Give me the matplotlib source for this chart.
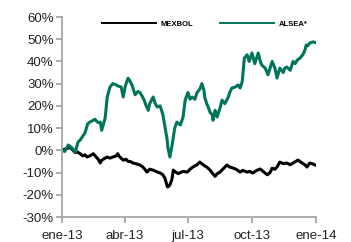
import matplotlib
matplotlib.use('Agg')
import matplotlib.pyplot as plt
import numpy as np
import pandas as pd

# days since 2013-01-01 and cumulative return (%)
alsea_days = [0, 4, 9, 13, 16, 19, 23, 26, 29, 33, 37, 40, 45, 47, 52, 55, 57, 62, 65, 69,
              73, 78, 80, 85, 88, 91, 95, 98, 101, 105, 109, 112, 115, 118, 121, 124, 126, 131,
              134, 137, 141, 145, 148, 151, 152, 155, 158, 160, 162, 165, 170, 174, 177, 181,
              184, 187, 191, 194, 198, 201, 204, 205, 208, 210, 213, 216, 217, 220, 223, 224,
              227, 230, 234, 239, 241, 244, 249, 253, 256, 259, 262, 266, 269, 273, 277, 282,
              285, 287, 292, 296, 299, 302, 306, 309, 313, 318, 320, 323, 328, 332, 335, 338,
              342, 346, 349, 351, 353, 356, 361, 364, 366]
alsea = [0, -0.5, 2.4, 1.5, 0.5, -0.8, 3.7, 4.6, 6, 7.8, 12, 12.7, 13.5, 14, 12.5, 12.7, 9, 14.5,
         24, 28.5, 30, 29.5, 29, 28.5, 24, 29, 32.5, 31, 29, 25, 26.5, 26, 24.5, 22.6, 20, 18, 21,
         24, 21, 19.5, 20, 16, 10.5, 5, 1.5, -3, 2, 6, 10, 12.7, 11.4, 15, 22.6, 26, 23, 24, 23,
         26, 27.5, 30, 27, 24, 21, 19.5, 17, 16, 13.5, 18, 15, 16, 19, 22.6, 21, 24, 26, 28, 28.5,
         29.4, 28, 31, 41.5, 43, 40, 43.8, 39, 43.8, 40, 38.4, 37, 34, 37, 40, 37, 32.5, 37, 35,
         37, 37.5, 36, 40, 39, 40.6, 41.5, 43, 45, 47.4, 47, 48.3, 48.8, 48.5, 48.3]

mexbol_days = [0, 4, 9, 11, 16, 19, 22, 26, 30, 33, 36, 40, 45, 49, 52, 55, 57, 62, 65, 69, 73,
               78, 80, 83, 88, 92, 95, 98, 102, 106, 112, 116, 119, 122, 126, 131, 135, 141, 145,
               148, 151, 152, 155, 158, 160, 162, 167, 170, 174, 180, 184, 188, 194, 198, 203,
               205, 208, 213, 216, 220, 223, 227, 231, 237, 241, 246, 250, 256, 260, 266, 270,
               274, 280, 285, 289, 295, 299, 302, 306, 309, 313, 318, 323, 328, 332, 336, 339,
               345, 349, 352, 356, 361, 364]
mexbol = [0, 0.5, 1, 1.5, 0, -1, -0.75, -1.5, -2.5, -2, -3, -2.5, -1.5, -3, -4, -5.7, -4.5, -3.5,
          -3, -3.5, -3, -2.5, -1.5, -3, -4.4, -4, -5, -5, -5.7, -6, -6.6, -7.5, -8.5, -9.8, -8.5,
          -8.9, -9.5, -10.2, -11, -12.6, -16, -16.5, -15.6, -13, -8.9, -9.5, -10.5, -10, -9.5,
          -9.8, -8.5, -7.5, -6.5, -5.3, -6.5, -7, -7.5, -9, -10.2, -11.7, -10.5, -9.8, -8.5, -6.6,
          -7.5, -8, -8.5, -9.8, -9, -9.8, -9.5, -10.2, -9, -8.4, -9.5, -11, -10, -8, -8.5, -7.5,
          -5.3, -6, -5.7, -6.5, -5.7, -5, -4.4, -5.7, -6.5, -7.5, -5.7, -6.2, -6.6]

x_ticks = ['2013-01-01', '2013-04-01', '2013-07-01', '2013-10-01', '2014-01-01']
x_labels = ['ene-13', 'abr-13', 'jul-13', 'oct-13', 'ene-14']
y_ticks = [-30, -20, -10, 0, 10, 20, 30, 40, 50, 60]

start = pd.Timestamp('2013-01-01')
alsea_dates = start + pd.to_timedelta(alsea_days, unit='D')
mexbol_dates = start + pd.to_timedelta(mexbol_days, unit='D')

plt.rcParams['font.family'] = ['Liberation Sans', 'DejaVu Sans']

fig = plt.figure(figsize=(3.51, 2.42), dpi=100)
ax = fig.add_axes([62/351, 25/242, 254/351, 200/242])

green = '#00755C'
ax.plot(mexbol_dates, mexbol, color='black', lw=2.2, label='MEXBOL')
ax.plot(alsea_dates, alsea, color=green, lw=2.2, label='ALSEA*')

ax.set_xlim(pd.Timestamp(x_ticks[0]), pd.Timestamp(x_ticks[-1]))
ax.set_ylim(-30, 60)
ax.set_xticks([pd.Timestamp(t) for t in x_ticks])
ax.set_xticklabels(x_labels)
ax.set_yticks(y_ticks)
ax.set_yticklabels([f'{v}%' for v in y_ticks])

for s in ['top', 'right']:
    ax.spines[s].set_visible(False)
for s in ['left', 'bottom']:
    ax.spines[s].set_color('#A6A6A6')
    ax.spines[s].set_linewidth(1.3)
ax.tick_params(axis='both', colors='#A6A6A6', width=1.3, length=4, labelsize=9.5,
               labelcolor='#222222')
ax.tick_params(axis='x', pad=5.5)
ax.tick_params(axis='y', pad=2)

leg = fig.legend(loc='center', bbox_to_anchor=(205/351, 1 - 24/242), ncol=2, frameon=False,
                 prop={'size': 5.5, 'weight': 'bold'}, handlelength=7, handletextpad=0.7,
                 columnspacing=3.5, borderpad=0)
for line in leg.get_lines():
    line.set_linewidth(1.4)

fig.savefig('out.png', dpi=100)
